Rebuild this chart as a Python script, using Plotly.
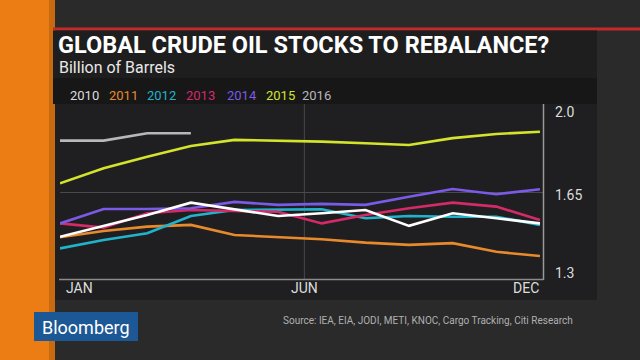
import plotly.graph_objects as go

months = list(range(12))
y2010 = [1.471, 1.515, 1.559, 1.609, 1.582, 1.555, 1.566, 1.579, 1.515, 1.566, 1.546, 1.525]
y2011 = [1.469, 1.494, 1.512, 1.519, 1.478, 1.471, 1.461, 1.447, 1.438, 1.445, 1.410, 1.393]
y2012 = [1.424, 1.458, 1.485, 1.555, 1.579, 1.582, 1.582, 1.546, 1.555, 1.552, 1.552, 1.519]
y2013 = [1.525, 1.508, 1.566, 1.579, 1.575, 1.572, 1.525, 1.559, 1.586, 1.609, 1.593, 1.539]
y2014 = [1.525, 1.583, 1.583, 1.586, 1.612, 1.600, 1.604, 1.600, 1.633, 1.664, 1.643, 1.663]
y2015 = [1.687, 1.748, 1.795, 1.838, 1.863, 1.860, 1.856, 1.849, 1.842, 1.870, 1.887, 1.896]
y2016 = [1.860, 1.860, 1.890, 1.890]

years = ["2010", "2011", "2012", "2013", "2014", "2015", "2016"]
series = [y2010, y2011, y2012, y2013, y2014, y2015, y2016]
colors = ["#ffffff", "#e88a2c", "#22b3cc", "#d42a68", "#7a5ae6", "#d4e32c", "#b8b8b8"]
legend_colors = ["#dddddd", "#e88a2c", "#22b3cc", "#d42a68", "#7a5ae6", "#d4e32c", "#b8b8b8"]

ytick_vals = [2.0, 1.65, 1.3]
ytick_text = ["2.0", "1.65", "1.3"]
xtick_text = ["JAN", "JUN", "DEC"]
jun_pos = 5.6

fig = go.Figure()
draw_order = [1, 2, 3, 4, 0, 5, 6]
for i in draw_order:
    fig.add_trace(go.Scatter(
        x=months[:len(series[i])], y=series[i], mode="lines",
        line=dict(color=colors[i], width=2.6), name=years[i], showlegend=False,
        hoverinfo="skip"))

W, H = 640, 360
def px(x):
    return x / W
def py(y):
    return 1 - y / H

shapes = []
# background pieces
shapes.append(dict(type="rect", xref="paper", yref="paper", x0=0, x1=px(55), y0=0, y1=1,
                   fillcolor="#ec7d14", line=dict(width=0), layer="below"))
shapes.append(dict(type="rect", xref="paper", yref="paper", x0=px(49), x1=px(55), y0=0, y1=1,
                   fillcolor="#c86a10", line=dict(width=0), layer="below"))
# red line
shapes.append(dict(type="rect", xref="paper", yref="paper", x0=px(53), x1=1, y0=py(30.5), y1=py(27.5),
                   fillcolor="#c62a28", line=dict(width=0), layer="below"))
# title band
shapes.append(dict(type="rect", xref="paper", yref="paper", x0=px(53), x1=px(597), y0=py(78), y1=py(30.5),
                   fillcolor="#1e1e1f", line=dict(width=0), layer="below"))
# legend band
shapes.append(dict(type="rect", xref="paper", yref="paper", x0=px(53), x1=px(597), y0=py(104), y1=py(78),
                   fillcolor="#171718", line=dict(width=0), layer="below"))
# chart panel
shapes.append(dict(type="rect", xref="paper", yref="paper", x0=px(55), x1=px(597), y0=py(300), y1=py(104),
                   fillcolor="#1f1f21", line=dict(width=0), layer="below"))
# horizontal grid at 1.65
shapes.append(dict(type="line", xref="x", yref="y", x0=-0.02, x1=11.07, y0=1.65, y1=1.65,
                   line=dict(color="#4a4a4c", width=1), layer="below"))
# vertical grid at JUN
shapes.append(dict(type="line", xref="x", yref="paper", x0=jun_pos, x1=jun_pos, y0=py(279), y1=py(104),
                   line=dict(color="#4a4a4c", width=1), layer="below"))
# right axis line
shapes.append(dict(type="line", xref="paper", yref="paper", x0=px(543.5), x1=px(543.5), y0=py(280), y1=py(104),
                   line=dict(color="#9a9a9a", width=1.5)))
# bottom axis line
shapes.append(dict(type="line", xref="paper", yref="paper", x0=px(59), x1=px(543.5), y0=py(279.5), y1=py(279.5),
                   line=dict(color="#8a8a8a", width=1.5)))
# Bloomberg box
shapes.append(dict(type="rect", xref="paper", yref="paper", x0=px(34), x1=px(138), y0=py(341), y1=py(312),
                   fillcolor="#1d5896", line=dict(width=0)))

annotations = []
annotations.append(dict(text="<b>GLOBAL CRUDE OIL STOCKS TO REBALANCE?</b>", xref="paper", yref="paper",
                        x=px(56), y=py(45), xanchor="left", yanchor="middle", showarrow=False,
                        font=dict(family="Roboto", size=23.5, color="#ffffff")))
annotations.append(dict(text="Billion of Barrels", xref="paper", yref="paper",
                        x=px(57), y=py(67), xanchor="left", yanchor="middle", showarrow=False,
                        font=dict(family="Roboto", size=16, color="#e8e8e8")))
legend_x = [68, 107, 145, 184, 225, 264, 300]
for i, yr in enumerate(years):
    annotations.append(dict(text=yr, xref="paper", yref="paper", x=px(legend_x[i]), y=py(96),
                            xanchor="left", yanchor="middle", showarrow=False,
                            font=dict(family="Roboto", size=13, color=legend_colors[i])))
tick_y_px = [112, 195, 273]
for v, t, ypx in zip(ytick_vals, ytick_text, tick_y_px):
    annotations.append(dict(text=t, xref="paper", yref="paper", x=px(553), y=py(ypx),
                            xanchor="left", yanchor="middle", showarrow=False,
                            font=dict(family="Roboto", size=14, color="#dddddd")))
annotations.append(dict(text=xtick_text[0], xref="paper", yref="paper", x=px(64), y=py(288),
                        xanchor="left", yanchor="middle", showarrow=False,
                        font=dict(family="Roboto", size=14, color="#dddddd")))
annotations.append(dict(text=xtick_text[1], xref="x", yref="paper", x=jun_pos, y=py(288),
                        xanchor="center", yanchor="middle", showarrow=False,
                        font=dict(family="Roboto", size=14, color="#dddddd")))
annotations.append(dict(text=xtick_text[2], xref="paper", yref="paper", x=px(541), y=py(288),
                        xanchor="right", yanchor="middle", showarrow=False,
                        font=dict(family="Roboto", size=14, color="#dddddd")))
annotations.append(dict(text="Bloomberg", xref="paper", yref="paper", x=px(86), y=py(327),
                        xanchor="center", yanchor="middle", showarrow=False,
                        font=dict(family="Roboto", size=18, color="#ffffff")))
annotations.append(dict(text="Source: IEA, EIA, JODI, METI, KNOC, Cargo Tracking, Citi Research",
                        xref="paper", yref="paper", x=px(575), y=py(320),
                        xanchor="right", yanchor="middle", showarrow=False,
                        font=dict(family="Roboto", size=10, color="#b0b0b0")))

fig.update_layout(
    width=W, height=H,
    margin=dict(l=0, r=0, t=0, b=0),
    paper_bgcolor="#2a2a2b",
    plot_bgcolor="rgba(0,0,0,0)",
    shapes=shapes,
    annotations=annotations,
    xaxis=dict(domain=[px(60), px(543)], range=[0, 11.07], showgrid=False, zeroline=False,
               showticklabels=False, showline=False, fixedrange=True),
    yaxis=dict(domain=[py(279), py(106)], range=[1.3, 2.0], showgrid=False, zeroline=False,
               showticklabels=False, showline=False, fixedrange=True),
    showlegend=False,
)

fig.write_html("out.html", config={"displayModeBar": False},
               post_script="document.body.style.margin='0';document.body.style.padding='0';document.body.style.overflow='hidden';")
